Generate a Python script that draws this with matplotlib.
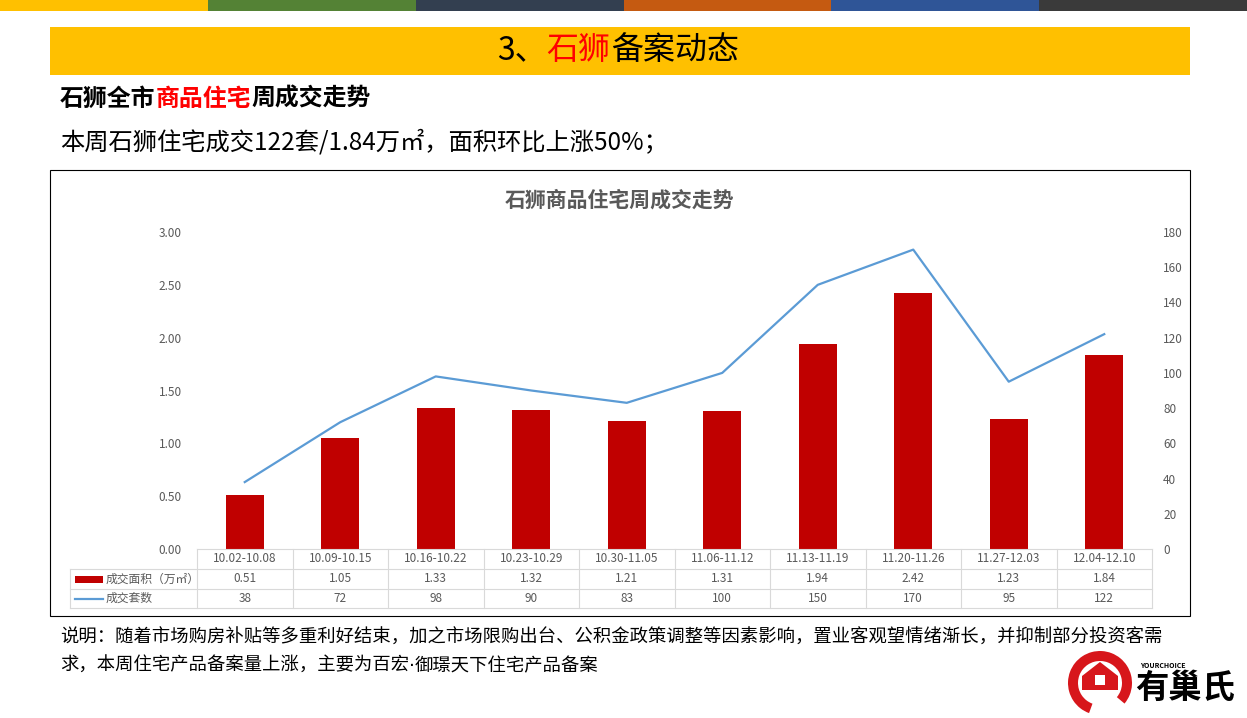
import matplotlib
matplotlib.use("Agg")
import matplotlib.pyplot as plt
from matplotlib.patches import Rectangle, Wedge, Polygon
from matplotlib.transforms import blended_transform_factory

plt.rcParams['font.family'] = ['Noto Sans CJK SC', 'DejaVu Sans']

# data
weeks = ["10.02-10.08", "10.09-10.15", "10.16-10.22", "10.23-10.29", "10.30-11.05",
         "11.06-11.12", "11.13-11.19", "11.20-11.26", "11.27-12.03", "12.04-12.10"]
area = [0.51, 1.05, 1.33, 1.32, 1.21, 1.31, 1.94, 2.42, 1.23, 1.84]
deals = [38, 72, 98, 90, 83, 100, 150, 170, 95, 122]
area_ticks = [0, 0.5, 1.0, 1.5, 2.0, 2.5, 3.0]
deal_ticks = list(range(0, 181, 20))
series_names = ["成交面积（万㎡）", "成交套数"]
stripe_colors = ["#FFC000", "#548235", "#333F50", "#C55A11", "#2F5597", "#3A3A3A"]

W, H = 1247, 718
GRAY = "#595959"
GRID = "#D9D9D9"

fig = plt.figure(figsize=(W / 100, H / 100), dpi=100)

# background layer in pixel coordinates
bg = fig.add_axes([0, 0, 1, 1])
bg.set_xlim(0, W)
bg.set_ylim(H, 0)
bg.axis("off")

for i, c in enumerate(stripe_colors):
    bg.add_patch(Rectangle((i * W / 6, 0), W / 6, 11, color=c, lw=0))
bg.add_patch(Rectangle((50, 27), 1140, 48, color="#FFC000", lw=0))


def rich_text(ax, x, y, parts, **kw):
    first = parts[0]
    t = ax.text(x, y, first[0], color=first[1], va="center", **kw, **(first[2] if len(first) > 2 else {}))
    for p in parts[1:]:
        extra = p[2] if len(p) > 2 else {}
        t = ax.annotate(p[0], xy=(1, 0), xycoords=t, va="bottom", ha="left", color=p[1],
                        **kw, **extra)
    return t


rich_text(bg, 497, 50, [("3、", "black"), ("石狮", "#FF0000"), ("备案动态", "black")],
          fontsize=23)
rich_text(bg, 60, 99, [("石狮全市", "black"), ("商品住宅", "#FF0000"), ("周成交走势", "black")],
          fontsize=17.2, fontweight="bold")
bg.text(60, 143, "本周石狮住宅成交122套/1.84万㎡，面积环比上涨50%；", fontsize=17.5, va="center")

# chart frame + title
bg.add_patch(Rectangle((50, 170), 1140, 446, fill=False, ec="black", lw=0.8))
bg.text(620, 200, "石狮商品住宅周成交走势", ha="center", va="center", fontsize=15,
        fontweight="bold", color=GRAY)

# notes
bg.text(60, 638, "说明：随着市场购房补贴等多重利好结束，加之市场限购出台、公积金政策调整等因素影响，"
        "置业客观望情绪渐长，并抑制部分投资客需", fontsize=13.2, va="center")
rich_text(bg, 60, 666, [("求，本周住宅产品备案量上涨，主要为百宏", "black"),
                        ("·", "black", {"family": "DejaVu Sans"}),
                        ("御璟天下住宅产品备案", "black")], fontsize=13.2)

# logo
bg.add_patch(Wedge((1100, 683), 32, 110, 400, width=10, color="#D7161B", lw=0))
bg.add_patch(Polygon([(1082, 690), (1082, 676), (1100, 662), (1118, 676), (1118, 690)],
                     color="#D7161B", lw=0))
bg.add_patch(Rectangle((1095, 675), 10, 10, color="white", lw=0))
bg.text(1135, 688, "有巢氏", fontsize=24, fontweight="bold", va="center", ha="left")
bg.text(1140, 665, "YOURCHOICE", fontsize=5, style="italic", va="center", ha="left",
        fontweight="bold")

# main chart
x = list(range(len(weeks)))
ax = fig.add_axes([197 / W, 1 - 549 / H, (1152 - 197) / W, (549 - 232) / H])
ax.bar(x, area, width=0.4, color="#C00000", zorder=2)
ax.set_xlim(-0.5, len(weeks) - 0.5)
ax.set_ylim(0, 3)
ax.set_yticks(area_ticks)
ax.set_yticklabels([f"{v:.2f}" for v in area_ticks])
ax.set_xticks([])
ax.tick_params(axis="y", length=0, labelsize=8.5, labelcolor=GRAY, pad=11)
for s in ax.spines.values():
    s.set_visible(False)
ax.patch.set_alpha(0)

ax2 = ax.twinx()
ax2.plot(x, deals, color="#5B9BD5", lw=1.6)
ax2.set_ylim(0, 180)
ax2.set_yticks(deal_ticks)
ax2.tick_params(axis="y", length=0, labelsize=8.5, labelcolor=GRAY, pad=8)
for s in ax2.spines.values():
    s.set_visible(False)

# data table below the plot
trans = blended_transform_factory(ax.transData, ax.transAxes)
ah = 549 - 232
col_px = (1152 - 197) / len(weeks)
r0, r1, r2, r3 = 0, -20 / ah, -40 / ah, -59 / ah
x_left = -0.5 + (70 - 197) / col_px
x_end = len(weeks) - 0.5
line_kw = dict(transform=trans, clip_on=False, color=GRID, lw=0.8)

ax.plot([-0.5, x_end], [r0, r0], **line_kw)
ax.plot([x_left, x_end], [r1, r1], **line_kw)
ax.plot([x_left, x_end], [r2, r2], **line_kw)
ax.plot([x_left, x_end], [r3, r3], **line_kw)
for i in range(len(weeks) + 1):
    ax.plot([i - 0.5, i - 0.5], [r0, r3], **line_kw)
ax.plot([x_left, x_left], [r1, r3], **line_kw)

txt_kw = dict(transform=trans, ha="center", va="center", fontsize=8.5, color=GRAY, clip_on=False)
for i in x:
    ax.text(i, (r0 + r1) / 2, weeks[i], **txt_kw)
    ax.text(i, (r1 + r2) / 2, f"{area[i]:.2f}", **txt_kw)
    ax.text(i, (r2 + r3) / 2, f"{deals[i]}", **txt_kw)

sw0 = -0.5 + (75 - 197) / col_px
sw1 = -0.5 + (103 - 197) / col_px
lab_x = -0.5 + (106 - 197) / col_px
ax.add_patch(Rectangle((sw0, (r1 + r2) / 2 - 3.5 / ah), sw1 - sw0, 7 / ah, color="#C00000",
                       transform=trans, clip_on=False, lw=0))
ax.plot([sw0, sw1], [(r2 + r3) / 2] * 2, transform=trans, clip_on=False, color="#5B9BD5", lw=1.6)
ax.text(lab_x, (r1 + r2) / 2, series_names[0], transform=trans, ha="left", va="center",
        fontsize=8.5, color=GRAY)
ax.text(lab_x, (r2 + r3) / 2, series_names[1], transform=trans, ha="left", va="center",
        fontsize=8.5, color=GRAY)

fig.savefig("out.png", dpi=100)
